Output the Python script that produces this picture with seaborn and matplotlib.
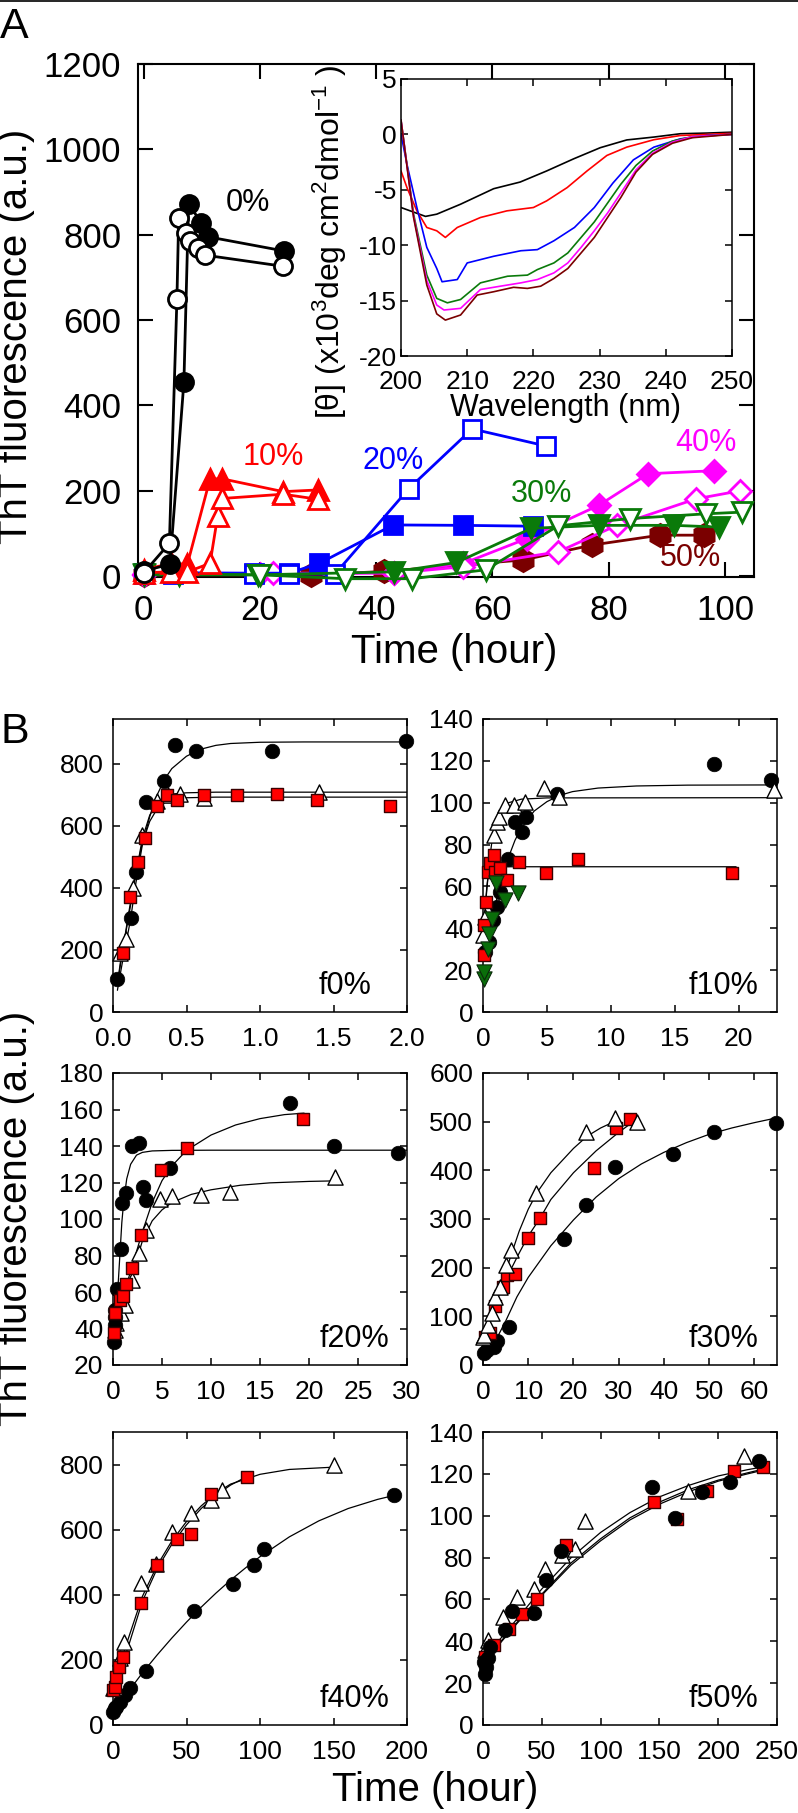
import numpy as np
import pandas as pd
import seaborn as sns
from matplotlib import pyplot as plt
from matplotlib.lines import Line2D

# ---------------- Panel A: ThT kinetics (hour, a.u.) ----------------
a0_fill_t = [0, 4.5, 6.9, 7.7, 9.9, 11.1, 24.1]
a0_fill_v = [12, 28, 455, 872, 828, 795, 762]
a0_open_t = [0, 4.4, 5.7, 6.0, 7.2, 8.0, 9.4, 10.6, 24.0]
a0_open_v = [8, 77, 650, 840, 805, 786, 768, 752, 726]
a10_fill_t = [0, 4.7, 7.5, 11.4, 13.5, 24, 30]
a10_fill_v = [15, 30, 28, 228, 228, 198, 202]
a10_open_t = [0, 4.7, 7.5, 11.4, 12.7, 13.5, 24, 30]
a10_open_v = [8, 10, 10, 30, 140, 182, 192, 180]
a20_fill_t = [0, 5, 19, 25, 30.2, 42.9, 55, 67]
a20_fill_v = [8, 8, 7, 7, 30, 120, 119, 117]
a20_open_t = [0, 5, 19, 25, 32.9, 45.6, 56.5, 69.2]
a20_open_v = [5, 5, 5, 5, 5, 205, 345, 305]
a30_fill_t = [0, 6, 19.6, 43, 53.8, 66.7, 78.3, 91.3, 98.9]
a30_fill_v = [5, 5, 3, 10, 32, 112, 119, 119, 115]
a30_open_t = [0, 6, 20, 34.7, 46.2, 58.9, 71.3, 83.7, 96.7, 102.9]
a30_open_v = [3, 3, 3, -6, -6, 15, 118, 135, 146, 150]
a40_fill_t = [0, 20, 43, 55, 65.9, 78.3, 86.8, 98.1]
a40_fill_v = [5, 5, 8, 30, 88, 166, 240, 247]
a40_open_t = [0, 22.3, 43, 55, 71.3, 81.4, 95, 102.6]
a40_open_v = [3, 7, 7, 22, 57, 119, 181, 200]
a50_t = [0, 28.7, 41.4, 65.3, 77.2, 88.8, 96.4]
a50_v = [3, 3, 11, 38, 73, 96, 96]

pct_labels = ['0%', '10%', '20%', '30%', '40%', '50%']
pct_label_t = [17.9, 22.3, 42.9, 68.5, 96.7, 94.1]
pct_label_v = [875, 278, 270, 193, 313, 42]

# ---------------- Inset: CD spectra (nm, x10^3 deg cm2 dmol-1) ----------------
cd_black_nm = [200, 203.7, 205.4, 209, 214, 218, 222, 226.1, 230.1, 234.1, 238.2, 242.2, 246.2, 250]
cd_black_v = [-6.6, -7.4, -7.2, -6.3, -4.9, -4.3, -3.3, -2.2, -1.2, -0.5, -0.24, 0.06, 0.12, 0.2]
cd_red_nm = [200, 200.9, 202.4, 203.9, 205.4, 206.7, 208.5, 212, 216, 220, 222, 225.1, 228.1, 231.1,
             234.1, 238.2, 242.2, 250]
cd_red_v = [-3.3, -4.8, -6.9, -8.4, -8.7, -9.3, -8.4, -7.5, -6.9, -6.6, -6.0, -4.8, -3.3, -1.9,
            -1.15, -0.48, -0.1, 0.1]
cd_blue_nm = [200, 200.9, 202.4, 203.9, 205.4, 206.2, 208.5, 210, 214, 218.1, 220.6, 223.1, 226.2,
              229.2, 232, 235.1, 238.2, 242.2, 246.2, 250]
cd_blue_v = [0.0, -2.7, -6.6, -10.2, -12.1, -13.3, -13.1, -11.6, -11.0, -10.5, -10.4, -9.6, -8.4,
             -6.6, -4.4, -2.3, -1.15, -0.4, -0.1, 0.0]
cd_green_nm = [200, 201.9, 203.9, 205.4, 207, 209, 212, 216.1, 219.1, 220.6, 223.1, 225.2, 227.2,
               229.2, 231.2, 233.2, 235.5, 238, 241, 244, 250]
cd_green_v = [1.3, -7.2, -12.7, -14.8, -15.2, -14.9, -13.4, -12.8, -12.7, -12.2, -11.6, -10.7, -9.3,
              -7.9, -6.2, -4.5, -2.8, -1.5, -0.6, -0.2, 0.0]
cd_mag_nm = [200, 201.9, 203.9, 205.4, 206.5, 209, 212, 215, 218.1, 220.6, 223.1, 225.2, 227.2,
             229.2, 231.2, 233.2, 235.5, 238, 241, 244, 250]
cd_mag_v = [1.3, -7.4, -13.2, -15.4, -15.85, -15.7, -14.0, -13.7, -13.4, -13.1, -12.5, -11.6, -10.2,
            -8.7, -7.1, -5.3, -3.2, -1.7, -0.7, -0.2, 0.0]
cd_maroon_nm = [200, 201.9, 203.9, 205.4, 206.7, 209, 211.5, 214, 217, 219.1, 221.1, 223.1, 225.2,
                227.2, 229.2, 231.2, 233.2, 235.5, 238, 241, 244, 250]
cd_maroon_v = [1.3, -7.5, -13.6, -16.2, -16.76, -16.3, -14.5, -14.2, -13.8, -13.9, -13.7, -13.0,
               -12.1, -10.7, -9.3, -7.5, -5.7, -3.4, -1.8, -0.8, -0.3, 0.0]

# ---------------- Panel B: seeded kinetics ----------------
# f0%
b0_circ_t = [0.027, 0.12, 0.159, 0.227, 0.345, 0.42, 0.568, 1.08, 1.995]
b0_circ_v = [105, 302, 453, 676, 746, 862, 841, 841, 873]
b0_tri_t = [0.05, 0.086, 0.136, 0.2, 0.3, 0.375, 0.455, 0.618, 1.4]
b0_tri_v = [189, 234, 399, 571, 679, 701, 703, 690, 711]
b0_sq_t = [0.068, 0.118, 0.17, 0.216, 0.3, 0.364, 0.432, 0.618, 0.845, 1.114, 1.386, 1.882]
b0_sq_v = [189, 372, 485, 561, 663, 701, 685, 701, 701, 704, 685, 665]
b0_fit_circ_t = [0.03, 0.06, 0.1, 0.12, 0.15, 0.2, 0.25, 0.3, 0.35, 0.4, 0.5, 0.6, 0.7, 0.8, 1.0, 1.3, 2.0]
b0_fit_circ_v = [70, 150, 250, 300, 400, 540, 630, 700, 750, 785, 825, 848, 860, 866, 870, 871, 871]
b0_fit_tri_t = [0.03, 0.05, 0.1, 0.15, 0.2, 0.25, 0.3, 0.35, 0.4, 0.5, 0.7, 2.0]
b0_fit_tri_v = [90, 160, 290, 430, 560, 635, 675, 695, 703, 707, 709, 709]
b0_fit_sq_t = [0.03, 0.05, 0.1, 0.15, 0.2, 0.25, 0.3, 0.35, 0.4, 0.5, 0.7, 2.0]
b0_fit_sq_v = [90, 150, 300, 440, 545, 615, 655, 675, 685, 691, 693, 693]
# f10%
b10_circ_t = [0.18, 0.45, 0.79, 1.1, 1.36, 1.94, 2.54, 3.06, 3.4, 5.76, 18.06, 22.5]
b10_circ_v = [28.7, 33.5, 43.8, 50.2, 57.4, 73.3, 90.9, 86.1, 93.3, 104.4, 118.5, 110.8]
b10_tri_t = [0.0, 0.18, 0.84, 1.1, 1.23, 1.7, 2.4, 3.32, 4.76, 5.94, 22.8]
b10_tri_v = [36.7, 45.4, 84.5, 90.9, 93.3, 98.9, 98.9, 100.4, 106.8, 102.5, 106]
b10_sq_t = [0.05, 0.1, 0.26, 0.37, 0.58, 0.89, 0.97, 1.36, 1.88, 2.8, 4.95, 7.46, 19.5]
b10_sq_v = [27.1, 41.5, 52.6, 67, 71, 74.9, 67, 68.6, 63, 71.8, 66.2, 72.9, 66.5]
b10_grn_t = [0.05, 0.1, 0.37, 0.45, 0.7, 1.02, 1.75, 2.72]
b10_grn_v = [15.9, 19.1, 30.3, 37.5, 44.6, 61.4, 53.4, 56.9]
b10_fit_circ_t = [0.05, 0.5, 1, 1.5, 2, 2.5, 3, 4, 5, 6, 7, 9, 12, 16, 23]
b10_fit_circ_v = [27, 40, 52, 64, 74, 82, 88, 96, 100.5, 103.5, 105.3, 107, 108, 108.4, 108.5]
b10_fit_tri_t = [0.0, 0.25, 0.5, 0.75, 1, 1.5, 2, 3, 5, 23.2]
b10_fit_tri_v = [35, 55, 72, 84, 91, 97, 100, 101.7, 102.3, 102.4]
b10_fit_sq_t = [0.0, 0.1, 0.2, 0.3, 0.4, 0.6, 1.0, 2.0, 19.8]
b10_fit_sq_v = [26, 40, 52, 60, 65, 68, 69.3, 69.4, 69.4]
# f20%
b20_circ_t = [0.07, 0.17, 0.17, 0.17, 0.41, 0.85, 0.95, 1.3, 1.98, 2.66, 3.07, 3.4, 5.8, 18.07, 22.6, 29.1]
b20_circ_v = [32.8, 41.9, 46.4, 50.1, 61.9, 83.3, 108.8, 114.4, 139.8, 141.8, 117.5, 110.2, 127.9,
              163.5, 140, 136.1]
b20_sq_t = [0.1, 0.17, 0.68, 1.02, 1.36, 1.94, 2.83, 4.87, 7.5, 19.4]
b20_sq_v = [37.3, 48.3, 55.5, 57.7, 64.3, 73.4, 91.5, 126.6, 139, 154.9]
b20_tri_t = [0.17, 0.34, 0.85, 1.19, 1.98, 2.66, 3.4, 4.77, 5.97, 9.03, 11.9, 22.7]
b20_tri_v = [39.1, 42.8, 48.3, 52.8, 66.5, 81.4, 93.8, 111.1, 112.6, 113, 114.8, 123]
b20_fit_circ_t = [0.05, 0.3, 0.5, 0.7, 0.9, 1.1, 1.4, 1.8, 2.4, 3, 4, 6, 10, 30]
b20_fit_circ_v = [35, 48, 62, 80, 98, 110, 122, 130, 135, 136.5, 137.3, 137.6, 137.7, 137.7]
b20_fit_sq_t = [0.05, 1, 2, 3, 4, 5, 6, 7.5, 10, 12.5, 15, 17.5, 19.5]
b20_fit_sq_v = [38, 57, 75, 93, 109, 121, 129, 137.6, 146, 151.5, 155, 157.2, 158]
b20_fit_tri_t = [0.05, 1, 2, 3, 4, 5, 6, 8, 10, 13, 16, 20, 22.7]
b20_fit_tri_v = [40, 52, 70, 88, 99, 105, 109, 113.5, 116, 118.5, 119.8, 120.6, 120.9]
# f30%
b30_circ_t = [0.15, 0.9, 1.6, 2.4, 3.1, 5.7, 17.9, 22.7, 29.2, 41.9, 51.1, 64.8]
b30_circ_v = [25.3, 30.8, 41, 37.7, 50, 78.8, 258, 328.8, 406, 433.5, 479, 498]
b30_sq_t = [0.5, 1.6, 2.7, 4.4, 5.2, 7, 10, 12.5, 24.5, 29.3, 32.4]
b30_sq_v = [58, 65, 121.2, 161, 185, 186.3, 260.3, 301.4, 405.5, 486.3, 504.8]
b30_tri_t = [0, 0.15, 1, 2, 2.7, 3.8, 5, 6.3, 11.8, 22.8, 29.2, 34]
b30_tri_v = [58, 61.6, 82.2, 106.2, 140.4, 161, 205.5, 236.3, 352.7, 479.4, 506.8, 500]
b30_fit_circ_t = [0, 2.5, 5, 7.5, 10, 15, 20, 25, 30, 35, 40, 45, 50, 55, 60, 65]
b30_fit_circ_v = [22, 45, 90, 140, 180, 245, 298, 345, 383, 413, 437, 457, 474, 487, 498, 508]
b30_fit_sq_t = [0, 2, 5, 8, 10, 12.5, 15, 20, 25, 30, 32.5]
b30_fit_sq_v = [50, 110, 175, 230, 265, 300, 340, 395, 440, 478, 495]
b30_fit_tri_t = [0, 2, 4, 6, 8, 10, 12, 15, 20, 23, 26, 29, 30]
b30_fit_tri_v = [58, 100, 160, 220, 275, 320, 355, 395, 445, 470, 487, 500, 502]
# f40%
b40_circ_t = [0, 1.1, 2.3, 4.5, 8, 11.4, 22.7, 55.2, 81.4, 95.9, 103, 191.4]
b40_circ_v = [40.9, 51, 56.2, 71.5, 92, 112.4, 165.5, 350.4, 434.2, 490.4, 539.5, 705]
b40_sq_t = [0, 1.1, 2.3, 4.1, 6.8, 19.3, 30, 43.2, 53.4, 67, 90.9]
b40_sq_v = [107.3, 117.5, 146, 176.8, 207.4, 376, 490.4, 570, 585.4, 710, 763.2]
b40_tri_t = [0, 1.1, 5, 7.3, 19.3, 29.5, 39.8, 53.4, 67, 73.9, 150]
b40_tri_v = [112.4, 115.5, 204.3, 255.4, 436.3, 495.5, 592.6, 650.8, 689.7, 722.3, 800]
b40_fit_circ_t = [0, 10, 20, 30, 40, 50, 60, 70, 80, 90, 100, 120, 140, 160, 180, 192]
b40_fit_circ_v = [38, 100, 160, 215, 267, 316, 362, 405, 445, 482, 517, 578, 627, 665, 693, 706]
b40_fit_sq_t = [0, 5, 10, 20, 30, 40, 50, 60, 70, 80, 91]
b40_fit_sq_v = [100, 175, 235, 380, 480, 555, 615, 665, 705, 737, 763]
b40_fit_tri_t = [0, 5, 10, 20, 30, 40, 50, 60, 70, 80, 100, 120, 150]
b40_fit_tri_v = [110, 190, 260, 395, 490, 565, 625, 673, 712, 740, 770, 785, 792]
# f50%
b50_circ_t = [1.1, 2, 2.8, 4, 6.25, 19, 24.7, 43.2, 53.7, 66.5, 144, 163, 186.6, 210.2, 235]
b50_circ_v = [30.2, 24.6, 27.8, 31.8, 37.4, 45.3, 54.5, 53.7, 69.1, 83, 113.6, 98.9, 111.3, 116, 126]
b50_sq_t = [2, 9.1, 21.9, 33.2, 45.5, 71, 145.5, 165.3, 190.3, 213.6, 237.8]
b50_sq_v = [32.6, 38.1, 46.1, 53.2, 60.1, 85.8, 106.5, 98.5, 111.7, 121.6, 123.5]
b50_tri_t = [2, 4, 17, 29, 43.2, 53.1, 67.3, 78.1, 86.6, 173.9, 222.2]
b50_tri_v = [35.8, 40.5, 51.7, 61.2, 65.2, 74.7, 81.1, 84.2, 97.7, 111.7, 128.3]
b50_fit_t = [0, 10, 25, 50, 75, 100, 125, 150, 175, 200, 225, 240]
b50_fit_a_v = [30, 38, 48, 65, 80, 92, 101.5, 109, 114.5, 119, 122, 123.5]
b50_fit_b_v = [29, 36.5, 46.5, 62.5, 77.5, 89, 99, 106.5, 112.5, 117, 120.5, 122.5]
b50_fit_c_v = [28.5, 36, 46, 62, 76.5, 88, 98, 105.5, 111.5, 116.5, 120, 122]

# ---------------- style ----------------
sns.set_style('ticks', {'axes.edgecolor': 'black', 'xtick.color': 'black', 'ytick.color': 'black',
                        'text.color': 'black', 'axes.labelcolor': 'black'})
plt.rcParams['font.family'] = ['Liberation Sans', 'DejaVu Sans']
plt.rcParams['mathtext.fontset'] = 'custom'
plt.rcParams['mathtext.rm'] = 'Liberation Sans'
plt.rcParams['mathtext.default'] = 'regular'
plt.rcParams['axes.unicode_minus'] = False

W, H = 798, 1813
fig = plt.figure(figsize=(W / 100, H / 100), dpi=100)


def px_axes(left, top, right, bottom):
    return fig.add_axes([left / W, 1 - bottom / H, (right - left) / W, (bottom - top) / H])


def frame(ax, tick_len, lw, size, pad):
    ax.tick_params(direction='in', top=True, right=True, length=tick_len, width=lw,
                   labelsize=size, pad=pad)
    for sp in ax.spines.values():
        sp.set_linewidth(lw)
        sp.set_visible(True)


RED, BLUE, GREEN, MAG, MAROON = '#ff0000', '#0000ff', '#0a7a0a', '#ff00ff', '#7a0000'

# ---------------- Panel A main ----------------
axA = px_axes(138, 64, 754, 577)


def kin(t, v, color, marker, ms, face, z):
    sns.lineplot(x=t, y=v, ax=axA, color=color, marker=marker, markersize=ms,
                 markerfacecolor=face, markeredgecolor=color, markeredgewidth=2,
                 linewidth=2, sort=False, estimator=None, legend=False, clip_on=False, zorder=z)


kin(a50_t, a50_v, MAROON, 'h', 16, MAROON, 3)
kin(a40_fill_t, a40_fill_v, MAG, 'D', 11, MAG, 3)
kin(a40_open_t, a40_open_v, MAG, 'D', 11, 'white', 3)
kin(a20_fill_t, a20_fill_v, BLUE, 's', 13, BLUE, 3)
kin(a20_open_t, a20_open_v, BLUE, 's', 13, 'white', 3)
kin(a30_fill_t, a30_fill_v, GREEN, 'v', 14, GREEN, 4)
kin(a30_open_t, a30_open_v, GREEN, 'v', 14, 'white', 4)
kin(a10_fill_t, a10_fill_v, RED, '^', 14, RED, 4)
kin(a10_open_t, a10_open_v, RED, '^', 14, 'white', 4)
kin(a0_fill_t, a0_fill_v, 'black', 'o', 13, 'black', 5)
kin(a0_open_t, a0_open_v, 'black', 'o', 13, 'white', 5)

for lab, t, v, c in zip(pct_labels, pct_label_t, pct_label_v, ['black', RED, BLUE, GREEN, MAG, MAROON]):
    axA.text(t, v, lab, color=c, fontsize=22, ha='center', va='center', zorder=6)

axA.set_xlim(-1, 105)
axA.set_ylim(-2, 1200)
axA.set_xticks(range(0, 101, 20))
axA.set_yticks(range(0, 1201, 200))
frame(axA, 11, 1.5, 25, 12)

# ---------------- Inset ----------------
axI = px_axes(401, 79, 732, 356)
axI.set_facecolor('white')
for nm, v, c in [(cd_black_nm, cd_black_v, 'black'), (cd_red_nm, cd_red_v, RED),
                 (cd_blue_nm, cd_blue_v, BLUE), (cd_green_nm, cd_green_v, GREEN),
                 (cd_mag_nm, cd_mag_v, MAG), (cd_maroon_nm, cd_maroon_v, MAROON)]:
    sns.lineplot(x=nm, y=v, ax=axI, color=c, linewidth=1.2, sort=False, estimator=None, legend=False)
axI.set_xlim(200, 250)
axI.set_ylim(-20, 5)
axI.set_xticks(range(200, 251, 10))
axI.set_yticks(range(-20, 6, 5))
frame(axI, 5, 1.1, 19, 3)
axI.tick_params(axis='x', pad=10)
fig.text(566 / W, 1 - 408 / H, 'Wavelength (nm)', fontsize=22, ha='center', va='center')
fig.text(330 / W, 1 - 242 / H, r'[θ] (x10$^{3}$deg cm$^{2}$dmol$^{-1}$ )', fontsize=23,
         rotation=90, ha='center', va='center')

fig.text(16 / W, 1 - 336 / H, 'ThT fluorescence (a.u.)', fontsize=29, rotation=90,
         ha='center', va='center')
fig.text(454 / W, 1 - 652 / H, 'Time (hour)', fontsize=29, ha='center', va='center')
fig.text(0.0, 1 - 38 / H, 'A', fontsize=31, ha='left', va='baseline')
fig.add_artist(Line2D([0, 1], [1 - 1 / H, 1 - 1 / H], color='black', linewidth=1.2))

# ---------------- Panel B ----------------
cols = [(113, 407), (483, 777)]
rows = [(719, 1012), (1073, 1365), (1432, 1725)]


def dots(ax, t, v, kind, z=4):
    if kind == 'circ':
        sns.scatterplot(x=t, y=v, ax=ax, marker='o', s=110, color='black', edgecolor='black',
                        linewidth=0.5, zorder=z, clip_on=False, legend=False)
    elif kind == 'tri':
        sns.scatterplot(x=t, y=v, ax=ax, marker='^', s=120, color='white', edgecolor='black',
                        linewidth=1, zorder=z, clip_on=False, legend=False)
    elif kind == 'sq':
        sns.scatterplot(x=t, y=v, ax=ax, marker='s', s=80, color=RED, edgecolor='#3a0000',
                        linewidth=1, zorder=z, clip_on=False, legend=False)
    else:
        sns.scatterplot(x=t, y=v, ax=ax, marker='v', s=120, color='#0a6e0a', edgecolor='#0a2a0a',
                        linewidth=0.8, zorder=z, clip_on=False, legend=False)


def fit(ax, t, v):
    sns.lineplot(x=t, y=v, ax=ax, color='black', linewidth=0.9, sort=False, estimator=None,
                 legend=False, zorder=2)


panels = [
    dict(pos=(0, 0), name='f0%', tx=0.88, xl=(0, 2), xt=np.arange(0, 2.01, 0.5), yl=(0, 945),
         yt=range(0, 801, 200),
         pts=[(b0_circ_t, b0_circ_v, 'circ'), (b0_tri_t, b0_tri_v, 'tri'), (b0_sq_t, b0_sq_v, 'sq')],
         fits=[(b0_fit_circ_t, b0_fit_circ_v), (b0_fit_tri_t, b0_fit_tri_v), (b0_fit_sq_t, b0_fit_sq_v)]),
    dict(pos=(0, 1), name='f10%', tx=0.937, xl=(0, 23), xt=range(0, 21, 5), yl=(0, 140),
         yt=range(0, 141, 20),
         pts=[(b10_circ_t, b10_circ_v, 'circ'), (b10_tri_t, b10_tri_v, 'tri'), (b10_sq_t, b10_sq_v, 'sq'),
              (b10_grn_t, b10_grn_v, 'grn')],
         fits=[(b10_fit_circ_t, b10_fit_circ_v), (b10_fit_tri_t, b10_fit_tri_v), (b10_fit_sq_t, b10_fit_sq_v)]),
    dict(pos=(1, 0), name='f20%', tx=0.94, xl=(0, 30), xt=range(0, 31, 5), yl=(20, 180),
         yt=range(20, 181, 20),
         pts=[(b20_tri_t, b20_tri_v, 'tri'), (b20_circ_t, b20_circ_v, 'circ'), (b20_sq_t, b20_sq_v, 'sq')],
         fits=[(b20_fit_circ_t, b20_fit_circ_v), (b20_fit_tri_t, b20_fit_tri_v), (b20_fit_sq_t, b20_fit_sq_v)]),
    dict(pos=(1, 1), name='f30%', tx=0.937, xl=(0, 65), xt=range(0, 61, 10), yl=(0, 600),
         yt=range(0, 601, 100),
         pts=[(b30_circ_t, b30_circ_v, 'circ'), (b30_sq_t, b30_sq_v, 'sq'), (b30_tri_t, b30_tri_v, 'tri')],
         fits=[(b30_fit_circ_t, b30_fit_circ_v), (b30_fit_tri_t, b30_fit_tri_v), (b30_fit_sq_t, b30_fit_sq_v)]),
    dict(pos=(2, 0), name='f40%', tx=0.94, xl=(0, 200), xt=range(0, 201, 50), yl=(0, 900),
         yt=range(0, 801, 200),
         pts=[(b40_circ_t, b40_circ_v, 'circ'), (b40_tri_t, b40_tri_v, 'tri'), (b40_sq_t, b40_sq_v, 'sq')],
         fits=[(b40_fit_circ_t, b40_fit_circ_v), (b40_fit_tri_t, b40_fit_tri_v), (b40_fit_sq_t, b40_fit_sq_v)]),
    dict(pos=(2, 1), name='f50%', tx=0.937, xl=(0, 250), xt=range(0, 251, 50), yl=(0, 140),
         yt=range(0, 141, 20),
         pts=[(b50_tri_t, b50_tri_v, 'tri'), (b50_sq_t, b50_sq_v, 'sq'), (b50_circ_t, b50_circ_v, 'circ')],
         fits=[(b50_fit_t, b50_fit_a_v), (b50_fit_t, b50_fit_b_v), (b50_fit_t, b50_fit_c_v)]),
]

for p in panels:
    r, c = p['pos']
    ax = px_axes(cols[c][0], rows[r][0], cols[c][1], rows[r][1])
    for t, v in p['fits']:
        fit(ax, t, v)
    for i, (t, v, kind) in enumerate(p['pts']):
        dots(ax, t, v, kind, z=4 + i)
    ax.set_xlim(*p['xl'])
    ax.set_ylim(*p['yl'])
    ax.set_xticks(list(p['xt']))
    ax.set_yticks(list(p['yt']))
    if p['name'] == 'f0%':
        ax.set_xticklabels(['%.1f' % x for x in p['xt']])
    frame(ax, 5, 1.1, 19, 11)
    ax.tick_params(axis='y', pad=7)
    ax.text(p['tx'], 0.09, p['name'], transform=ax.transAxes, fontsize=22, ha='right', va='center')

fig.text(0.0, 1 - 743 / H, 'B', fontsize=31, ha='left', va='baseline')
fig.text(16 / W, 1 - 1218 / H, 'ThT fluorescence (a.u.)', fontsize=29, rotation=90,
         ha='center', va='center')
fig.text(435 / W, 1 - 1790 / H, 'Time (hour)', fontsize=29, ha='center', va='center')

fig.savefig('out.png', dpi=100)
